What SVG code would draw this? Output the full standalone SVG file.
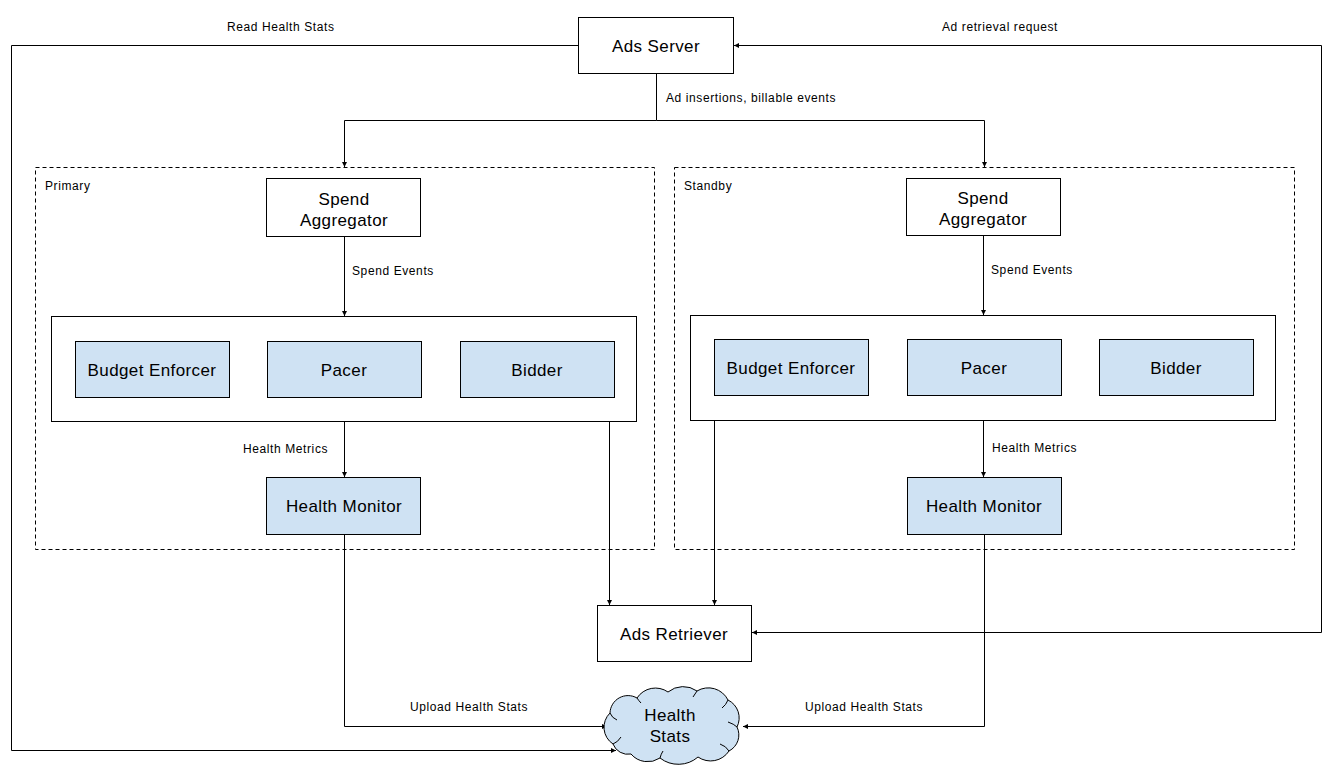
<svg xmlns="http://www.w3.org/2000/svg" width="1333" height="774" viewBox="0 0 1333 774">
<defs>
<marker id="arr" markerUnits="userSpaceOnUse" markerWidth="6" markerHeight="6" refX="5" refY="3" orient="auto">
<path d="M0,0.5 L5,3 L0,5.5 z" fill="#000"/>
</marker>
<style>
.box{fill:#fff;stroke:#000;stroke-width:1}
.blue{fill:#cfe2f3;stroke:#000;stroke-width:1}
.group{fill:none;stroke:#000;stroke-width:1;stroke-dasharray:4,3}
.con{fill:none;stroke:#000;stroke-width:1;marker-end:url(#arr)}
.line{fill:none;stroke:#000;stroke-width:1}
.nt{font-family:"Liberation Sans",Arial,sans-serif;font-size:17px;letter-spacing:0.4px;fill:#000;text-anchor:middle}
.lb{font-family:"Liberation Sans",Arial,sans-serif;font-size:12px;letter-spacing:0.6px;fill:#000}
</style>
</defs>
<rect width="1333" height="774" fill="#fff"/>

<g id="group-primary">
<rect class="group" x="35.5" y="167.5" width="619" height="382"/>
<text class="lb" x="45" y="190">Primary</text>
</g>
<g id="group-standby">
<rect class="group" x="674.5" y="167.5" width="620" height="382"/>
<text class="lb" x="684" y="190">Standby</text>
</g>

<g id="connectors">
<path class="con" d="M578.5,45.5 H11.5 V750.5 H616"/>
<path class="line" d="M1321.5,45.5 V632.5"/>
<path class="con" d="M1321.5,45.5 H734"/>
<path class="con" d="M1321.5,632.5 H752"/>
<path class="line" d="M656.5,73 V120.5"/>
<path class="con" d="M656.5,120.5 H344.5 V167"/>
<path class="con" d="M656.5,120.5 H984.5 V167"/>
<path class="con" d="M344.5,236 V316"/>
<path class="con" d="M983.5,235 V315"/>
<path class="con" d="M344.5,421 V477"/>
<path class="con" d="M983.5,420 V477"/>
<path class="con" d="M609.5,421 V605"/>
<path class="con" d="M714.5,420 V605"/>
<path class="con" d="M344.5,534 V726.5 H607"/>
<path class="con" d="M984.5,534 V726.5 H743"/>
<text class="lb" x="227" y="31">Read Health Stats</text>
<text class="lb" x="942" y="31">Ad retrieval request</text>
<text class="lb" x="666" y="102">Ad insertions, billable events</text>
<text class="lb" x="352" y="275">Spend Events</text>
<text class="lb" x="991" y="274">Spend Events</text>
<text class="lb" x="243" y="453">Health Metrics</text>
<text class="lb" x="992" y="452">Health Metrics</text>
<text class="lb" x="410" y="711">Upload Health Stats</text>
<text class="lb" x="805" y="711">Upload Health Stats</text>
</g>

<g id="ads-server">
<rect class="box" x="578.5" y="17.5" width="155" height="56"/>
<text class="nt" x="656" y="52">Ads Server</text>
</g>

<g id="spend-aggregator-primary">
<rect class="box" x="266.5" y="178.5" width="154" height="58"/>
<text class="nt" x="344" y="205">Spend</text>
<text class="nt" x="344" y="226">Aggregator</text>
</g>
<g id="container-primary">
<rect class="box" x="51.5" y="316.5" width="585" height="105"/>
</g>
<g id="budget-enforcer-primary">
<rect class="blue" x="75.5" y="341.5" width="154" height="56"/>
<text class="nt" x="152" y="376">Budget Enforcer</text>
</g>
<g id="pacer-primary">
<rect class="blue" x="267.5" y="341.5" width="154" height="56"/>
<text class="nt" x="344" y="376">Pacer</text>
</g>
<g id="bidder-primary">
<rect class="blue" x="460.5" y="341.5" width="154" height="56"/>
<text class="nt" x="537" y="376">Bidder</text>
</g>
<g id="health-monitor-primary">
<rect class="blue" x="266.5" y="477.5" width="154" height="57"/>
<text class="nt" x="344" y="512">Health Monitor</text>
</g>

<g id="spend-aggregator-standby">
<rect class="box" x="906.5" y="178.5" width="154" height="57"/>
<text class="nt" x="983" y="204">Spend</text>
<text class="nt" x="983" y="225">Aggregator</text>
</g>
<g id="container-standby">
<rect class="box" x="690.5" y="315.5" width="585" height="105"/>
</g>
<g id="budget-enforcer-standby">
<rect class="blue" x="714.5" y="339.5" width="154" height="56"/>
<text class="nt" x="791" y="374">Budget Enforcer</text>
</g>
<g id="pacer-standby">
<rect class="blue" x="907.5" y="339.5" width="154" height="56"/>
<text class="nt" x="984" y="374">Pacer</text>
</g>
<g id="bidder-standby">
<rect class="blue" x="1099.5" y="339.5" width="154" height="56"/>
<text class="nt" x="1176" y="374">Bidder</text>
</g>
<g id="health-monitor-standby">
<rect class="blue" x="907.5" y="477.5" width="154" height="57"/>
<text class="nt" x="984" y="512">Health Monitor</text>
</g>

<g id="ads-retriever">
<rect class="box" x="597.5" y="605.5" width="154" height="56"/>
<text class="nt" x="674" y="640">Ads Retriever</text>
</g>

<g id="health-stats">
<path class="blue" d="M613,744 A20,20 0 0 1 610,713 A18,18 0 0 1 637,698 A22,22 0 0 1 668,692 A24,24 0 0 1 697,691 A22,22 0 0 1 728,700 A20,20 0 0 1 737,727 A18,18 0 0 1 729,751 A22,22 0 0 1 698,757 A30,30 0 0 1 660,758 A22,22 0 0 1 631,754 A16,16 0 0 1 613,744 Z"/>
<path class="line" d="M613,744 Q618,742 621,737 M610,713 Q612,718 617,720 M637,698 Q639,701 641,703 M697,691 Q695,694 693,697 M728,700 Q726,705 722,708 M737,727 Q734,724 728,722 M729,751 Q726,746 720,744 M660,758 Q661,754 663,751"/>
<text class="nt" x="670" y="721">Health</text>
<text class="nt" x="670" y="742">Stats</text>
</g>
</svg>
